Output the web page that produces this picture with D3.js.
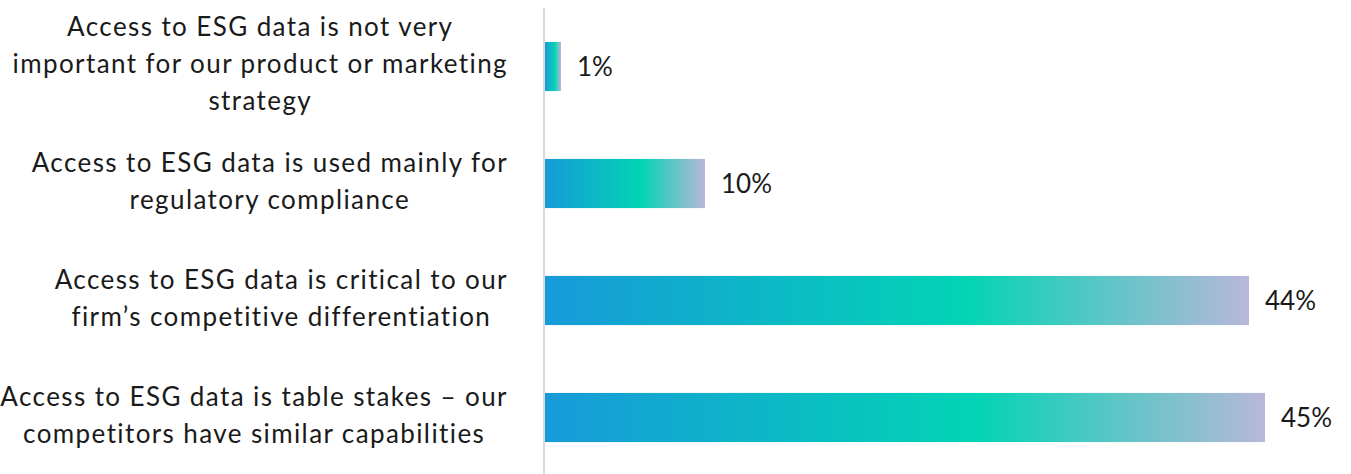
<!DOCTYPE html>
<html>
<head>
<meta charset="utf-8">
<script src="https://cdn.jsdelivr.net/npm/d3@7"></script>
<style>
  html, body { margin: 0; padding: 0; background: #ffffff; }
  svg { display: block; }
  text { font-family: Lato, "Noto Sans", sans-serif; fill: #1a1a1a; }
</style>
</head>
<body>
<svg id="chart" width="1351" height="474"></svg>
<script>
// Survey answers, one per bar, top to bottom
const categories = ["notImportant", "compliance", "differentiation", "tableStakes"];
const labelLines = [
  ["Access to ESG data is not very", "important for our product or marketing", "strategy"],
  ["Access to ESG data is used mainly for", "regulatory compliance"],
  ["Access to ESG data is critical to our", "firm\u2019s competitive differentiation"],
  ["Access to ESG data is table stakes \u2013 our", "competitors have similar capabilities"]
];
const values = [1, 10, 44, 45];
const valueLabels = ["1%", "10%", "44%", "45%"];

const W = 1351, H = 474;
const axisX = 544;
const labelRight = 508;

const svg = d3.select("#chart");

const x = d3.scaleLinear().domain([0, 45]).range([545, 1265]);
const y = d3.scaleBand().domain(categories).range([8, 476]).paddingInner(0.58).paddingOuter(0.29);

// One horizontal gradient per bar: blue -> teal -> lavender
const defs = svg.append("defs");
categories.forEach((c, i) => {
  const g = defs.append("linearGradient").attr("id", "grad" + i)
    .attr("x1", "0%").attr("x2", "100%").attr("y1", "0%").attr("y2", "0%");
  g.append("stop").attr("offset", "0%").attr("stop-color", "#179ad9");
  g.append("stop").attr("offset", "60%").attr("stop-color", "#02d4b4");
  g.append("stop").attr("offset", "100%").attr("stop-color", "#b9b7d9");
});

// Bars
svg.append("g").selectAll("rect").data(categories).join("rect")
  .attr("x", x(0))
  .attr("y", d => y(d))
  .attr("width", (d, i) => x(values[i]) - x(0))
  .attr("height", y.bandwidth())
  .attr("fill", (d, i) => "url(#grad" + i + ")");

// Vertical baseline
svg.append("line")
  .attr("x1", axisX).attr("x2", axisX)
  .attr("y1", 8).attr("y2", H)
  .attr("stroke", "#d9d9d9").attr("stroke-width", 2);

// Value labels
svg.append("g").selectAll("text").data(categories).join("text")
  .attr("x", (d, i) => x(values[i]) + 16)
  .attr("y", d => y(d) + y.bandwidth() / 2)
  .attr("dy", "0.36em")
  .attr("font-size", 26)
  .text((d, i) => valueLabels[i]);

// Category labels: each block right-aligned, lines centred within the block
const lineH = 37;
const lab = svg.append("g").selectAll("text").data(categories).join("text")
  .attr("font-size", 26)
  .attr("letter-spacing", 1.4)
  .attr("text-anchor", "middle");

lab.each(function(d, i) {
  const t = d3.select(this);
  const lines = labelLines[i];
  const cy = y(d) + y.bandwidth() / 2 - 2.5;
  const top = cy - (lines.length - 1) * lineH / 2;
  const spans = lines.map((s, k) => t.append("tspan")
    .attr("y", top + k * lineH)
    .attr("dy", "0.36em")
    .text(s));
  const maxW = d3.max(spans, sp => sp.node().getComputedTextLength());
  spans.forEach(sp => sp.attr("x", labelRight - maxW / 2));
});
</script>
</body>
</html>
